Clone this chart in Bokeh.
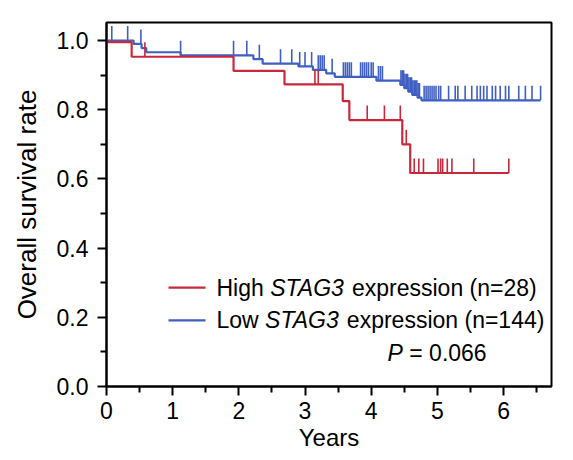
import numpy as np
from bokeh.plotting import figure
from bokeh.models import Range1d, FixedTicker, Label, PrintfTickFormatter
from bokeh.embed import file_html
from bokeh.resources import INLINE

# ---- data ----
red_t = [0.0, 0.38, 1.92, 2.69, 3.57, 3.67, 4.47, 4.59]
red_s = [0.995, 0.953, 0.912, 0.873, 0.825, 0.770, 0.700, 0.617]
red_end = 6.08
red_censor = [0.58, 3.15, 3.20, 3.94, 4.20, 4.44, 4.53, 4.65, 4.72, 4.79,
              5.01, 5.05, 5.08, 5.15, 5.22, 5.55, 6.08]

blue_t = [0.0, 0.41, 0.53, 0.60, 1.12, 2.22, 2.36, 2.90, 3.12, 3.32, 3.45,
          4.08, 4.44, 4.50, 4.56, 4.62, 4.70, 4.76]
blue_s = [1.0, 0.990, 0.978, 0.966, 0.957, 0.946, 0.933, 0.925, 0.915, 0.905,
          0.895, 0.884, 0.872, 0.862, 0.852, 0.843, 0.835, 0.827]
blue_end = 6.56
blue_censor = [0.08, 0.32, 0.52, 1.12, 1.92, 2.12, 2.31, 2.63, 2.80, 2.92,
               3.00, 3.10, 3.20, 3.23, 3.26, 3.29, 3.41, 3.58, 3.61, 3.64,
               3.67, 3.70, 3.84, 3.87, 3.90, 3.93, 3.96, 4.00, 4.03, 4.11,
               4.14, 4.17, 4.45, 4.47, 4.49, 4.51, 4.53, 4.55, 4.57, 4.59,
               4.61, 4.63, 4.65, 4.67, 4.69, 4.71, 4.73, 4.80, 4.83, 4.86,
               4.89, 4.92, 4.95, 4.98, 5.02, 5.05, 5.17, 5.27, 5.31, 5.42,
               5.52, 5.60, 5.65, 5.70, 5.75, 5.83, 5.88, 5.95, 6.03, 6.08,
               6.23, 6.33, 6.43, 6.56]

x_ticks = [0, 1, 2, 3, 4, 5, 6]
y_ticks = [0.0, 0.2, 0.4, 0.6, 0.8, 1.0]

RED = "#c9283c"
BLUE = "#3f5fc3"
FONT = "Liberation Sans"
TICK_H = 0.042

p = figure(width=565, height=460, x_range=Range1d(0, 6.725), y_range=Range1d(0, 1.052),
           output_backend="svg", toolbar_location=None,
           min_border_left=106, min_border_right=14, min_border_top=22, min_border_bottom=74)

def draw(t, s, end, censor, color):
    xs = list(t) + [end]
    ys = list(s) + [s[-1]]
    p.step(xs, ys, mode="after", line_color=color, line_width=2.2)
    ta = np.array(t)
    sa = np.array(s)
    idx = np.searchsorted(ta, np.array(censor), side="right") - 1
    cy = sa[idx]
    p.segment(x0=censor, y0=cy, x1=censor, y1=cy + TICK_H, line_color=color, line_width=1.6)

draw(blue_t, blue_s, blue_end, blue_censor, BLUE)
draw(red_t, red_s, red_end, red_censor, RED)

# axes
p.xgrid.visible = False
p.ygrid.visible = False
p.outline_line_color = "black"
p.outline_line_width = 2
p.outline_line_alpha = 1

p.xaxis.ticker = FixedTicker(ticks=x_ticks, minor_ticks=[0.5, 1.5, 2.5, 3.5, 4.5, 5.5, 6.5])
p.yaxis.ticker = FixedTicker(ticks=y_ticks, minor_ticks=[0.1, 0.3, 0.5, 0.7, 0.9])
p.xaxis.formatter = PrintfTickFormatter(format="%d")
p.yaxis.formatter = PrintfTickFormatter(format="%.1f")
p.xaxis.axis_label = "Years"
p.yaxis.axis_label = "Overall survival rate"

for ax in (p.xaxis[0], p.yaxis[0]):
    ax.axis_line_width = 2
    ax.axis_line_color = "black"
    ax.major_tick_line_width = 2
    ax.minor_tick_line_width = 2
    ax.major_tick_line_color = "black"
    ax.minor_tick_line_color = "black"
    ax.major_tick_in = 0
    ax.major_tick_out = 9
    ax.minor_tick_in = 0
    ax.minor_tick_out = 6
    ax.major_label_text_font = FONT
    ax.major_label_text_font_size = "23px"
    ax.major_label_text_color = "black"
    ax.axis_label_text_font = FONT
    ax.axis_label_text_font_style = "normal"
    ax.axis_label_text_color = "black"

p.xaxis.axis_label_text_font_size = "24px"
p.yaxis.axis_label_text_font_size = "26px"
p.xaxis.major_label_standoff = 6
p.xaxis.axis_label_standoff = 2
p.yaxis.major_label_standoff = 9
p.yaxis.axis_label_standoff = 12

# legend (manual, to allow italic gene name)
F = 23
LX = 1.662
rows = [(0.286, RED, "High", "STAG3", "expression (n=28)", 2.334),
        (0.191, BLUE, "Low", "STAG3", "expression (n=144)", 2.112)]
for y, col, w1, w2, w3, em1 in rows:
    p.line([0.937, 1.496], [y, y], line_color=col, line_width=2.2)
    p.add_layout(Label(x=LX, y=y, text=w1, text_font=FONT, text_font_size=f"{F}px",
                       text_baseline="middle", text_color="black"))
    p.add_layout(Label(x=LX, y=y, x_offset=em1 * F, text=w2, text_font=FONT,
                       text_font_size=f"{F}px", text_font_style="italic",
                       text_baseline="middle", text_color="black"))
    p.add_layout(Label(x=LX, y=y, x_offset=(em1 + 3.279 + 0.278) * F, text=w3, text_font=FONT,
                       text_font_size=f"{F}px", text_baseline="middle", text_color="black"))

PX, PY = 4.247, 0.098
p.add_layout(Label(x=PX, y=PY, text="P", text_font=FONT, text_font_size=f"{F}px",
                   text_font_style="italic", text_baseline="middle", text_color="black"))
p.add_layout(Label(x=PX, y=PY, x_offset=(0.667 + 0.278) * F, text="= 0.066", text_font=FONT,
                   text_font_size=f"{F}px", text_baseline="middle", text_color="black"))

open("out.html", "w").write(file_html(p, INLINE))
